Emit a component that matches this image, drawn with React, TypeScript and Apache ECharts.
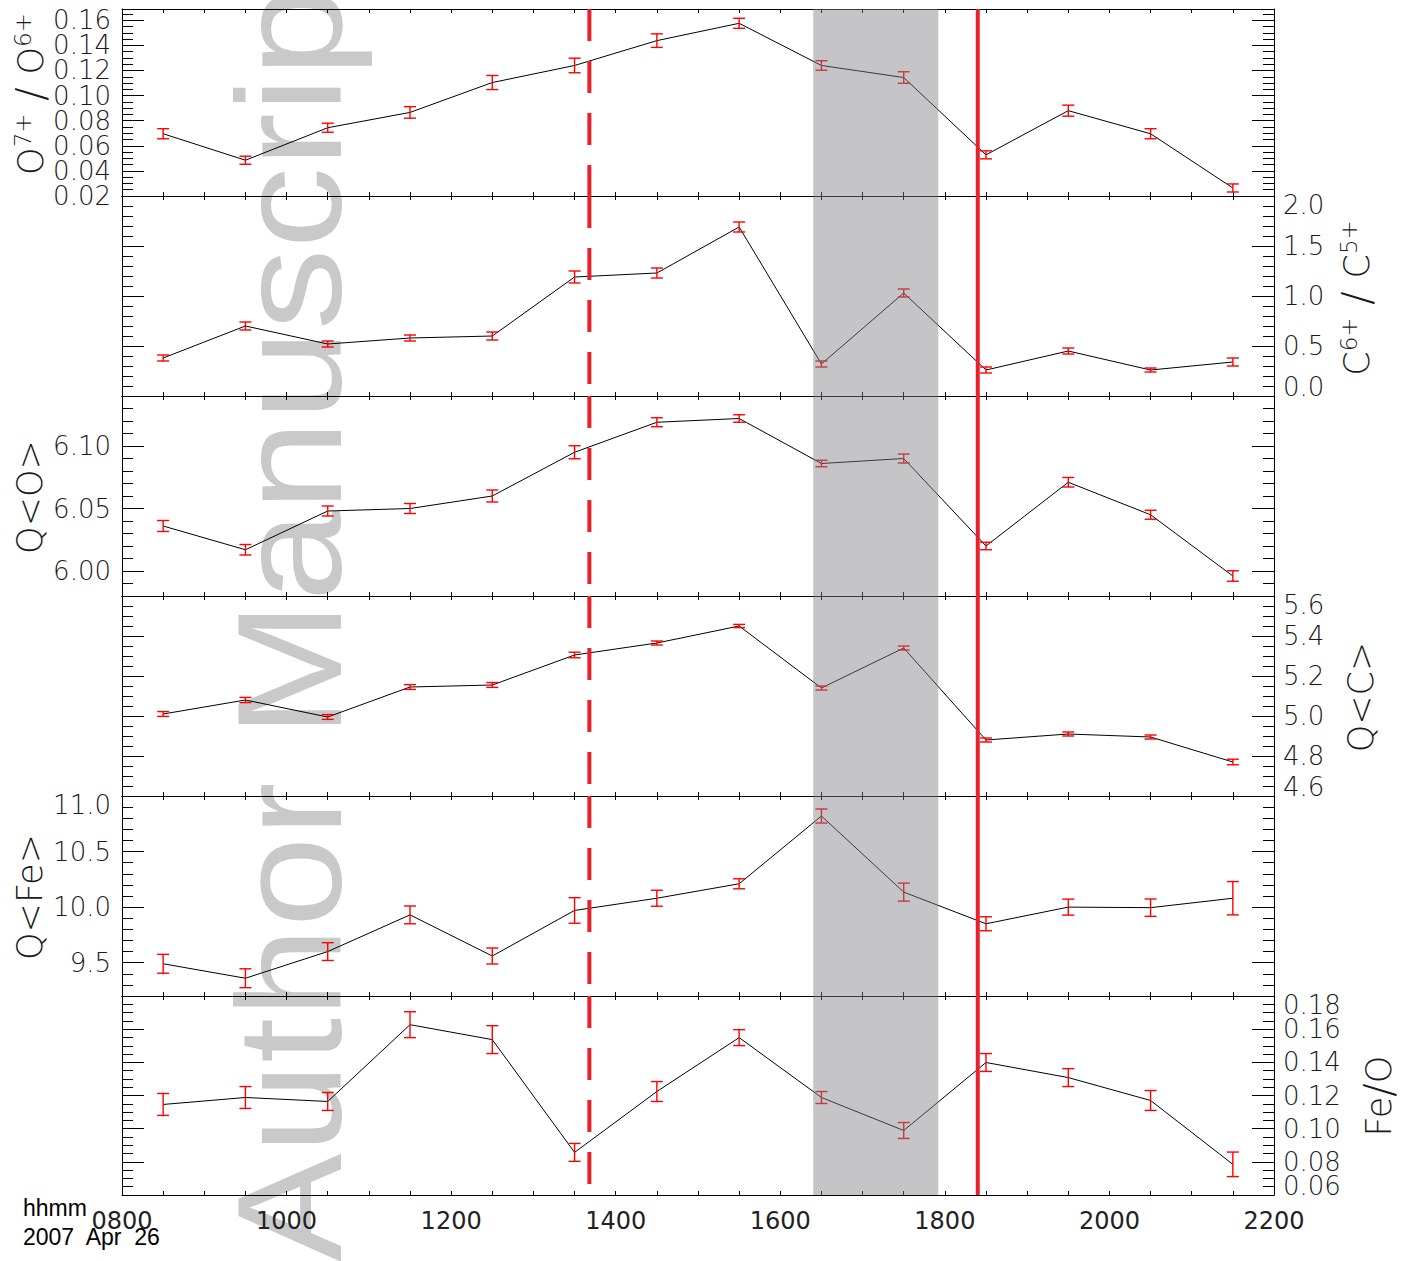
import React, { useEffect, useRef } from "react";
import * as echarts from "echarts";

// ---------------- data ----------------
const TIMES = [850, 950, 1050, 1150, 1250, 1350, 1450, 1550, 1650, 1750, 1850, 1950, 2050, 2150];

const O7_O6 = [0.0696, 0.0485, 0.0744, 0.0866, 0.1104, 0.124, 0.1438, 0.1576, 0.124, 0.1144, 0.0528, 0.088, 0.0696, 0.0264];
const O7_O6_ERR = [0.004, 0.0032, 0.0036, 0.0046, 0.0056, 0.0058, 0.0054, 0.004, 0.0038, 0.0046, 0.0032, 0.0044, 0.004, 0.0032];

const C6_C5 = [0.38, 0.70, 0.52, 0.58, 0.60, 1.19, 1.23, 1.69, 0.32, 1.03, 0.26, 0.45, 0.26, 0.34];
const C6_C5_ERR = [0.03, 0.04, 0.03, 0.03, 0.04, 0.06, 0.05, 0.05, 0.03, 0.04, 0.03, 0.03, 0.02, 0.04];

const Q_O = [6.036, 6.017, 6.048, 6.050, 6.060, 6.095, 6.119, 6.122, 6.086, 6.090, 6.020, 6.071, 6.045, 5.996];
const Q_O_ERR = [0.0044, 0.0042, 0.004, 0.004, 0.0048, 0.0052, 0.0036, 0.003, 0.0026, 0.0036, 0.003, 0.0038, 0.0036, 0.0042];

const Q_C = [5.01, 5.08, 4.995, 5.145, 5.155, 5.305, 5.365, 5.45, 5.14, 5.34, 4.88, 4.91, 4.895, 4.77];
const Q_C_ERR = [0.012, 0.013, 0.012, 0.012, 0.012, 0.014, 0.01, 0.008, 0.01, 0.01, 0.01, 0.01, 0.01, 0.014];

const Q_FE = [9.49, 9.36, 9.60, 9.93, 9.56, 9.97, 10.08, 10.21, 10.82, 10.135, 9.85, 10.0, 9.995, 10.08];
const Q_FE_ERR = [0.085, 0.085, 0.08, 0.08, 0.072, 0.115, 0.072, 0.045, 0.063, 0.081, 0.063, 0.072, 0.078, 0.15];

const FE_O = [0.1146, 0.1188, 0.1164, 0.1627, 0.1537, 0.0857, 0.1224, 0.1549, 0.1188, 0.0989, 0.1399, 0.1308, 0.117, 0.0785];
const FE_O_ERR = [0.0066, 0.0066, 0.0054, 0.0078, 0.0084, 0.0054, 0.006, 0.0048, 0.0036, 0.0048, 0.0054, 0.0054, 0.006, 0.0074];

// x axis (hhmm)
const X_MIN = 800;
const X_MAX = 2200;
const X_STEP = 200;

// shaded interval and event lines (hhmm)
const SHADED_INTERVAL = [1640, 1792];
const EVENT_TIMES = [1368, 1840];

// y tick labels
const O7_O6_TICKS = [0.02, 0.04, 0.06, 0.08, 0.1, 0.12, 0.14, 0.16];
const C6_C5_TICKS = [0.0, 0.5, 1.0, 1.5, 2.0];
const Q_O_TICKS = [6.0, 6.05, 6.1];
const Q_C_TICKS = [4.6, 4.8, 5.0, 5.2, 5.4, 5.6];
const Q_FE_TICKS = [9.5, 10.0, 10.5, 11.0];
const FE_O_TICKS = [0.06, 0.08, 0.1, 0.12, 0.14, 0.16, 0.18];

const O7_O6_RANGE = [0.02, 0.169];
const C6_C5_RANGE = [0, 2];
const Q_O_RANGE = [5.98, 6.14];
const Q_C_RANGE = [4.6, 5.6];
const Q_FE_RANGE = [9.2, 11.0];
const FE_O_RANGE = [0.06, 0.18];

const MINOR_STEPS = [0.005, 0.1, 0.01, 0.05, 0.1, 0.005];

// ---------------- layout / style ----------------
const PANEL_EDGES = [9, 196, 396, 596, 796, 996, 1195];
const GRID_LEFT = 122;
const GRID_WIDTH = 1152;
const TICK_FONT = '"DejaVu Sans", sans-serif';
const TITLE_FONT = '"DejaVu Sans", sans-serif';
const TEXT_COLOR = "#1a1a1a";

type PanelDef = {
  values: number[];
  errors: number[];
  range: number[];
  ticks: number[];
  digits: number;
  side: "left" | "right";
  minAlign?: string;
  maxAlign?: string;
  title: string;
  titleX: number;
  titleY: number;
};

const PANELS: PanelDef[] = [
  { values: O7_O6, errors: O7_O6_ERR, range: O7_O6_RANGE, ticks: O7_O6_TICKS, digits: 2, side: "left", title: "{b|O}{s|7+}{sl| / }{b|O}{s|6+}", titleX: 31, titleY: 94 },
  { values: C6_C5, errors: C6_C5_ERR, range: C6_C5_RANGE, ticks: C6_C5_TICKS, digits: 1, side: "right", minAlign: "bottom", maxAlign: "top", title: "{b|C}{s|6+}{sl| / }{b|C}{s|5+}", titleX: 1357, titleY: 298 },
  { values: Q_O, errors: Q_O_ERR, range: Q_O_RANGE, ticks: Q_O_TICKS, digits: 2, side: "left", title: "{b|Q<O>}", titleX: 30, titleY: 497 },
  { values: Q_C, errors: Q_C_ERR, range: Q_C_RANGE, ticks: Q_C_TICKS, digits: 1, side: "right", minAlign: "bottom", maxAlign: "top", title: "{b|Q<C>}", titleX: 1361, titleY: 697 },
  { values: Q_FE, errors: Q_FE_ERR, range: Q_FE_RANGE, ticks: Q_FE_TICKS, digits: 1, side: "left", maxAlign: "top", title: "{b|Q<Fe>}", titleX: 30, titleY: 897 },
  { values: FE_O, errors: FE_O_ERR, range: FE_O_RANGE, ticks: FE_O_TICKS, digits: 2, side: "right", minAlign: "bottom", maxAlign: "top", title: "{b|Fe}{sl|/}{b|O}", titleX: 1379, titleY: 1096 },
];

function stepValues(min: number, max: number, step: number): number[] {
  const out: number[] = [];
  const n0 = Math.ceil(min / step - 1e-6);
  const n1 = Math.floor(max / step + 1e-6);
  for (let n = n0; n <= n1; n++) out.push(+(n * step).toFixed(6));
  return out;
}

function buildOption() {
  const grid: any[] = [];
  const xAxis: any[] = [];
  const yAxis: any[] = [];
  const series: any[] = [];
  const graphic: any[] = [];
  const nPanels = PANELS.length;

  PANELS.forEach((p, i) => {
    const top = PANEL_EDGES[i];
    const bottom = PANEL_EDGES[i + 1];
    grid.push({ left: GRID_LEFT, width: GRID_WIDTH, top, height: bottom - top, show: false, containLabel: false, outerBoundsMode: "none" });

    const isLast = i === nPanels - 1;
    (["bottom", "top"] as const).forEach((pos) => {
      xAxis.push({
        type: "value",
        gridIndex: i,
        position: pos,
        min: X_MIN,
        max: X_MAX,
        interval: X_STEP,
        axisLine: { show: true, onZero: false, lineStyle: { color: "#000", width: 1 } },
        axisTick: { show: true, inside: true, length: 4, lineStyle: { color: "#000", width: 1 } },
        minorTick: { show: true, splitNumber: 4, length: 4, lineStyle: { color: "#000", width: 1 } },
        splitLine: { show: false },
        minorSplitLine: { show: false },
        axisLabel: {
          show: isLast && pos === "bottom",
          margin: 14,
          fontFamily: TICK_FONT,
          fontSize: 24,
          color: "#222",
          showMinLabel: true,
          showMaxLabel: true,
          formatter: (v: number) => String(Math.round(v)).padStart(4, "0"),
        },
      });
    });

    const [ymin, ymax] = p.range;
    const minors = stepValues(ymin, ymax, MINOR_STEPS[i]);
    const yIndexBase = yAxis.length;
    const nT = p.ticks.length;
    const labelSets = [
      p.ticks.filter((_, k) => k % 2 === 0),
      p.ticks.filter((_, k) => k % 2 === 1),
    ];

    const labelOpt = (pos: string, show: boolean, values: number[]) => ({
      show: show && values.length > 0,
      customValues: values,
      showMinLabel: true,
      showMaxLabel: true,
      hideOverlap: false,
      margin: pos === "left" ? 11 : 9,
      fontFamily: TICK_FONT,
      fontSize: 26,
      lineHeight: 18,
      fontWeight: 200,
      color: TEXT_COLOR,
      verticalAlignMinLabel: values.length && values[0] === p.ticks[0] ? p.minAlign : undefined,
      verticalAlignMaxLabel: values.length && values[values.length - 1] === p.ticks[nT - 1] ? p.maxAlign : undefined,
      formatter: (v: number) => v.toFixed(p.digits),
    });

    (["left", "right"] as const).forEach((pos) => {
      const showLabels = pos === p.side;
      // major ticks + first label set
      yAxis.push({
        type: "value",
        gridIndex: i,
        position: pos,
        min: ymin,
        max: ymax,
        axisLine: { show: true, onZero: false, lineStyle: { color: "#000", width: 1 } },
        axisTick: { show: true, inside: true, length: 22, customValues: p.ticks, lineStyle: { color: "#000", width: 1 } },
        splitLine: { show: false },
        axisLabel: labelOpt(pos, showLabels, labelSets[0]),
      });
      // minor ticks + second label set
      yAxis.push({
        type: "value",
        gridIndex: i,
        position: pos,
        min: ymin,
        max: ymax,
        axisLine: { show: false, onZero: false },
        axisTick: { show: true, inside: true, length: 11, customValues: minors, lineStyle: { color: "#000", width: 1 } },
        splitLine: { show: false },
        axisLabel: labelOpt(pos, showLabels, labelSets[1]),
      });
    });

    const xIdx = i * 2;
    const yIdx = yIndexBase;

    series.push({
      type: "line",
      xAxisIndex: xIdx,
      yAxisIndex: yIdx,
      data: TIMES.map((t, k) => [t, p.values[k]]),
      symbol: "none",
      silent: true,
      z: 2,
      lineStyle: { color: "#000", width: 1 },
    });

    series.push({
      type: "custom",
      xAxisIndex: xIdx,
      yAxisIndex: yIdx,
      silent: true,
      z: 3,
      data: TIMES.map((t, k) => [t, p.values[k] - p.errors[k], p.values[k] + p.errors[k]]),
      encode: { x: 0, y: [1, 2] },
      renderItem: (params: any, api: any) => {
        const x = api.value(0);
        const lo = api.coord([x, api.value(1)]);
        const hi = api.coord([x, api.value(2)]);
        const w = 6;
        const st = { stroke: "#ff0000", lineWidth: 1.4 };
        return {
          type: "group",
          children: [
            { type: "line", shape: { x1: lo[0], y1: lo[1], x2: hi[0], y2: hi[1] }, style: st },
            { type: "line", shape: { x1: lo[0] - w, y1: lo[1], x2: lo[0] + w, y2: lo[1] }, style: st },
            { type: "line", shape: { x1: hi[0] - w, y1: hi[1], x2: hi[0] + w, y2: hi[1] }, style: st },
          ],
        };
      },
    });

    series.push({
      type: "custom",
      xAxisIndex: xIdx,
      yAxisIndex: yIdx,
      silent: true,
      z: 4,
      data: [[SHADED_INTERVAL[0], SHADED_INTERVAL[1]]],
      renderItem: (params: any, api: any) => {
        const cs = params.coordSys;
        const a = api.coord([api.value(0), ymin])[0];
        const b = api.coord([api.value(1), ymin])[0];
        return {
          type: "rect",
          shape: { x: a, y: cs.y, width: b - a, height: cs.height },
          style: { fill: "rgba(128,128,132,0.46)" },
        };
      },
    });

    series.push({
      type: "custom",
      xAxisIndex: xIdx,
      yAxisIndex: yIdx,
      silent: true,
      z: 5,
      data: EVENT_TIMES.map((t) => [t, ymin]),
      renderItem: (params: any, api: any) => {
        const cs = params.coordSys;
        const x = api.coord([api.value(0), ymin])[0];
        const dashed = params.dataIndex === 0;
        return {
          type: "line",
          shape: { x1: x, y1: cs.y, x2: x, y2: cs.y + cs.height },
          style: { stroke: "#e8222c", lineWidth: 4, lineDash: dashed ? [32, 20] : null },
        };
      },
    });

    graphic.push({
      type: "text",
      x: p.titleX,
      y: p.titleY,
      rotation: Math.PI / 2,
      z: 10,
      style: {
        text: p.title,
        align: "center",
        verticalAlign: "middle",
        textAlign: "center",
        textVerticalAlign: "middle",
        fill: TEXT_COLOR,
        rich: {
          b: { fontFamily: TITLE_FONT, fontSize: 35, fontWeight: 200, fill: TEXT_COLOR },
          sl: { fontFamily: TITLE_FONT, fontSize: 40, fontWeight: 200, fill: TEXT_COLOR },
          s: { fontFamily: TITLE_FONT, fontSize: 23, fontWeight: 200, fill: TEXT_COLOR, verticalAlign: "top" },
        },
      },
    });
  });

  // watermark
  graphic.unshift({
    type: "text",
    x: 290,
    y: 1262,
    rotation: Math.PI / 2,
    scaleX: 1.1,
    z: -10,
    style: {
      text: "Author Manuscript",
      fontFamily: '"Liberation Sans", sans-serif',
      fontSize: 148,
      fill: "#c9c9c9",
      align: "left",
      verticalAlign: "middle",
      textAlign: "left",
      textVerticalAlign: "middle",
    },
  });

  graphic.push({
    type: "text",
    x: 23,
    y: 1208,
    z: 10,
    style: { text: "hhmm", fontFamily: '"Liberation Sans", sans-serif', fontSize: 23, fill: "#000", align: "left", verticalAlign: "middle", textAlign: "left", textVerticalAlign: "middle" },
  });
  graphic.push({
    type: "text",
    x: 23,
    y: 1237,
    z: 10,
    style: { text: "2007  Apr  26", fontFamily: '"Liberation Sans", sans-serif', fontSize: 23, fill: "#000", align: "left", verticalAlign: "middle", textAlign: "left", textVerticalAlign: "middle" },
  });

  return {
    animation: false,
    backgroundColor: "#ffffff",
    grid,
    xAxis,
    yAxis,
    series,
    graphic,
  };
}

export default function App() {
  const ref = useRef<HTMLDivElement>(null);
  useEffect(() => {
    if (!ref.current) return;
    const chart = echarts.init(ref.current, null, { renderer: "svg" });
    chart.setOption(buildOption() as any);
    return () => chart.dispose();
  }, []);
  return (
    <div
      ref={ref}
      style={{ position: "absolute", left: 0, top: 0, width: 1408, height: 1261 }}
    />
  );
}
